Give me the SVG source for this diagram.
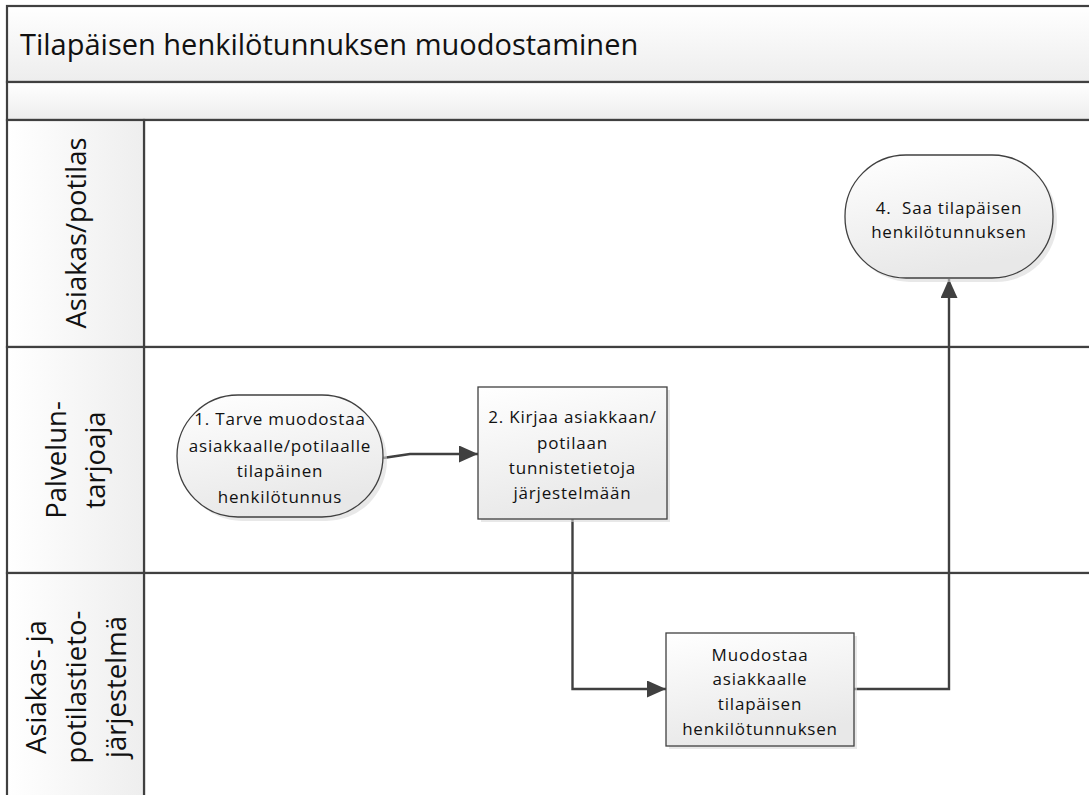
<svg xmlns="http://www.w3.org/2000/svg" width="1089" height="795" viewBox="0 0 1089 795">
  <defs>
    <linearGradient id="gV" x1="0" y1="0" x2="0" y2="1">
      <stop offset="0" stop-color="#ffffff"/>
      <stop offset="1" stop-color="#ededed"/>
    </linearGradient>
    <linearGradient id="gH" x1="0" y1="0" x2="1" y2="0">
      <stop offset="0" stop-color="#ffffff"/>
      <stop offset="1" stop-color="#eeeeee"/>
    </linearGradient>
    <linearGradient id="gN" x1="0" y1="0" x2="0.3" y2="1">
      <stop offset="0" stop-color="#ffffff"/>
      <stop offset="1" stop-color="#e8e8e8"/>
    </linearGradient>
    <marker id="arr" viewBox="0 0 19 17" refX="19" refY="8.5" markerWidth="19" markerHeight="17" markerUnits="userSpaceOnUse" orient="auto">
      <path d="M0,0 L19,8.5 L0,17 z" fill="#404040"/>
    </marker>
  </defs>
  <style>
    .lane { fill: #ffffff; stroke: #404040; stroke-width: 2.2; }
    .head { fill: url(#gH); stroke: #404040; stroke-width: 2.2; }
    .band { fill: url(#gV); stroke: #404040; stroke-width: 2.2; }
    .node { fill: url(#gN); stroke: #404040; stroke-width: 1.3; }
    .shadow { fill: #d8d8d8; opacity: 0.6; }
    .edge { fill: none; stroke: #404040; stroke-width: 2.4; }
    .title { font-family: "Open Sans", "Noto Sans", sans-serif; font-size: 29px; fill: #111; }
    .laneTxt { font-family: "Open Sans", "Noto Sans", sans-serif; font-size: 27.5px; fill: #111; text-anchor: middle; }
    .nodeTxt { font-family: "Open Sans", "Noto Sans", sans-serif; font-size: 17px; fill: #111; text-anchor: middle; letter-spacing: 0.8px; white-space: pre; }
  </style>

  <!-- pool title and band -->
  <g id="pool-title">
    <rect class="band" x="7" y="6" width="1090" height="76"/>
    <text class="title" x="20" y="55">Tilapäisen henkilötunnuksen muodostaminen</text>
  </g>
  <g id="pool-band">
    <rect class="band" x="7" y="82" width="1090" height="38"/>
  </g>

  <!-- lanes -->
  <g id="lane-asiakas">
    <rect class="lane" x="144" y="120" width="953" height="227"/>
    <rect class="head" x="7" y="120" width="137" height="227"/>
    <text class="laneTxt" transform="translate(86,233) rotate(-90)">Asiakas/potilas</text>
  </g>
  <g id="lane-palvelu">
    <rect class="lane" x="144" y="347" width="953" height="226"/>
    <rect class="head" x="7" y="347" width="137" height="226"/>
    <text class="laneTxt" transform="translate(66,460) rotate(-90)">Palvelun-</text>
    <text class="laneTxt" transform="translate(105,460) rotate(-90)">tarjoaja</text>
  </g>
  <g id="lane-jarjestelma">
    <rect class="lane" x="144" y="573" width="953" height="240"/>
    <rect class="head" x="7" y="573" width="137" height="240"/>
    <text class="laneTxt" transform="translate(46,687) rotate(-90)">Asiakas- ja</text>
    <text class="laneTxt" transform="translate(86,687) rotate(-90)">potilastieto-</text>
    <text class="laneTxt" transform="translate(126,687) rotate(-90)">järjestelmä</text>
  </g>

  <!-- connectors -->
  <g id="connectors">
    <path class="edge" d="M383,458 L410,454 L478,454" marker-end="url(#arr)"/>
    <path class="edge" d="M572.5,519 L572.5,689 L666,689" marker-end="url(#arr)"/>
    <path class="edge" d="M854,689 L949,689 L949,279" marker-end="url(#arr)"/>
  </g>

  <!-- nodes -->
  <g id="node-1">
    <rect class="shadow" x="181" y="399" width="206" height="122" rx="61"/>
    <rect class="node" x="177" y="395" width="206" height="122" rx="61"/>
    <text class="nodeTxt" x="280" y="425">1. Tarve muodostaa</text>
    <text class="nodeTxt" x="280" y="452">asiakkaalle/potilaalle</text>
    <text class="nodeTxt" x="280" y="477">tilapäinen</text>
    <text class="nodeTxt" x="280" y="503">henkilötunnus</text>
  </g>
  <g id="node-2">
    <rect class="shadow" x="481" y="390" width="189" height="132"/>
    <rect class="node" x="478" y="387" width="189" height="132"/>
    <text class="nodeTxt" x="572.5" y="423">2. Kirjaa asiakkaan/</text>
    <text class="nodeTxt" x="572.5" y="449">potilaan</text>
    <text class="nodeTxt" x="572.5" y="474">tunnistetietoja</text>
    <text class="nodeTxt" x="572.5" y="499">järjestelmään</text>
  </g>
  <g id="node-3">
    <rect class="shadow" x="669" y="636" width="188" height="113"/>
    <rect class="node" x="666" y="633" width="188" height="113"/>
    <text class="nodeTxt" x="760" y="661">Muodostaa</text>
    <text class="nodeTxt" x="760" y="685">asiakkaalle</text>
    <text class="nodeTxt" x="760" y="710">tilapäisen</text>
    <text class="nodeTxt" x="760" y="735">henkilötunnuksen</text>
  </g>
  <g id="node-4">
    <rect class="shadow" x="849" y="159" width="208" height="123" rx="61"/>
    <rect class="node" x="845" y="155" width="208" height="123" rx="61"/>
    <text class="nodeTxt" x="949" y="214">4.  Saa tilapäisen</text>
    <text class="nodeTxt" x="949" y="238">henkilötunnuksen</text>
  </g>
</svg>
